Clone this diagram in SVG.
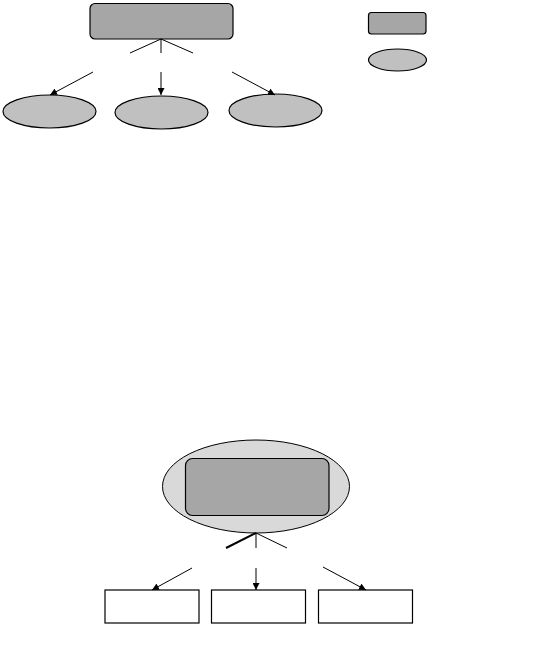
<svg xmlns="http://www.w3.org/2000/svg" width="547" height="649" viewBox="0 0 547 649">
<style>
.dark{fill:#a6a6a6;stroke:#000;stroke-width:1.2}
.light{fill:#c0c0c0;stroke:#000;stroke-width:1.2}
.pale{fill:#d9d9d9;stroke:#000;stroke-width:1}
.box{fill:#fff;stroke:#000;stroke-width:1.2}
.ln{stroke:#000;stroke-width:1;fill:none}
.ar{stroke:#000;stroke-width:1;fill:none;marker-end:url(#ah)}
</style>
<defs>
<marker id="ah" viewBox="0 0 10 10" refX="10" refY="5" markerWidth="7" markerHeight="7" markerUnits="userSpaceOnUse" orient="auto">
<path d="M0,0 L10,5 L0,10 z" fill="#000"/>
</marker>
</defs>
<rect width="547" height="649" fill="#fff"/>
<g id="top-root"><rect class="dark" x="90" y="3.5" width="143" height="35.5" rx="5"/></g>
<g id="top-child-1"><ellipse class="light" cx="49.5" cy="111.5" rx="46.5" ry="16.5"/></g>
<g id="top-child-2"><ellipse class="light" cx="161.5" cy="112.5" rx="46.5" ry="16.5"/></g>
<g id="top-child-3"><ellipse class="light" cx="275.5" cy="110.5" rx="46.5" ry="16.5"/></g>
<g id="legend-rect"><rect class="dark" x="368.5" y="12.5" width="57.5" height="21.5" rx="3"/></g>
<g id="legend-ellipse"><ellipse class="light" cx="397.5" cy="60" rx="29" ry="11"/></g>
<g id="bottom-root">
<ellipse class="pale" cx="256" cy="486.5" rx="93.5" ry="46.5"/>
<rect class="dark" x="185.5" y="458.5" width="143.5" height="57" rx="7"/>
</g>
<g id="bottom-child-1"><rect class="box" x="105" y="590" width="94" height="33"/></g>
<g id="bottom-child-2"><rect class="box" x="211.5" y="590" width="94" height="33"/></g>
<g id="bottom-child-3"><rect class="box" x="318.5" y="590" width="94" height="33"/></g>
<g id="connectors">
<path class="ln" d="M161,39 L130,53 M161,39 L161,53 M161,39 L193,53"/>
<path class="ar" d="M93,72 L50,95"/>
<path class="ar" d="M161,72 L161,95"/>
<path class="ar" d="M232,72 L275,95"/>
<path class="ln" d="M256,533 L226,548" style="stroke-width:2"/>
<path class="ln" d="M256,533 L256,548 M256,533 L287,548"/>
<path class="ar" d="M192,568 L152,590"/>
<path class="ar" d="M256,568 L256,590"/>
<path class="ar" d="M323,567 L366,590"/>
</g>
</svg>
